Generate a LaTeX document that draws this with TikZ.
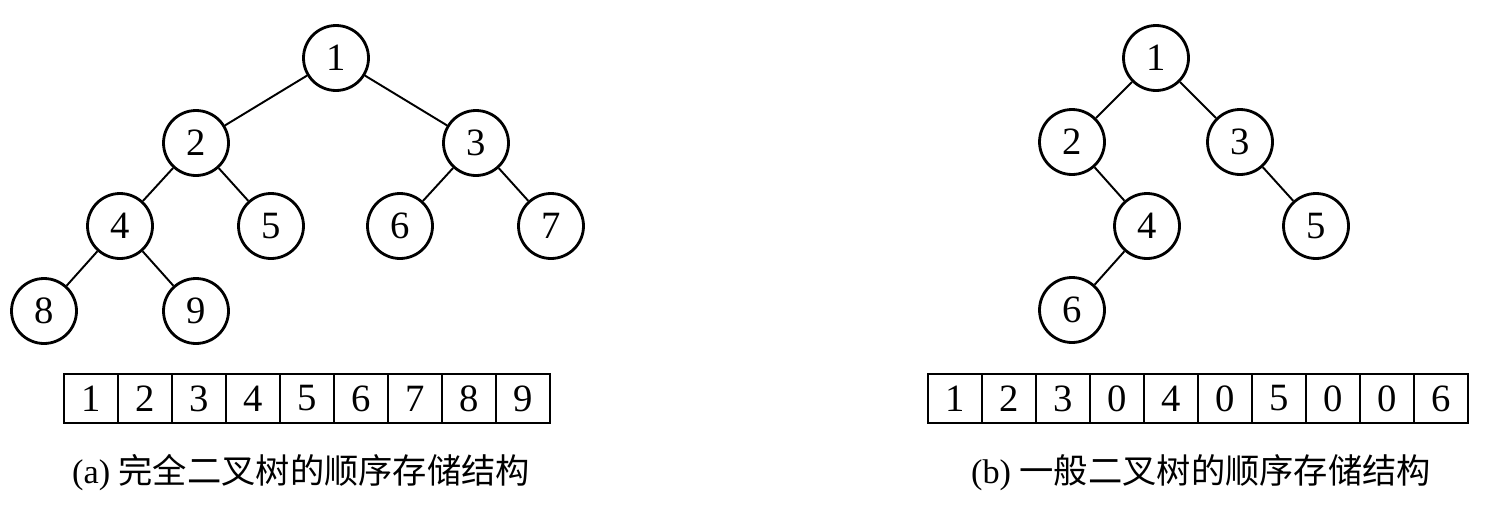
\documentclass[tikz,border=0pt]{standalone}
\usepackage{fontspec}
\setmainfont{Liberation Serif}
\newfontfamily\cjk{Noto Sans CJK SC}
\usetikzlibrary{positioning}
\tikzset{
    treenode/.style={
    circle,draw=black,line width=1.6pt,minimum size=1.3cm,inner sep=0pt,
    font=\fontsize{22}{26}\selectfont
    },
    cell/.style={
    rectangle,draw=black,line width=1.1pt,minimum width=1.08cm,minimum height=0.98cm,
    inner sep=0pt,font=\fontsize{22}{26}\selectfont
    },
    branch/.style={
    line width=1.1pt
    },
    caption/.style={
    font=\fontsize{19.5}{23}\selectfont
    },
}
\begin{document}
\begin{tikzpicture}[x=0.02cm, y=-0.02cm]
  \useasboundingbox (0,0) rectangle (1486,507);

  % (a) complete tree
  \node[treenode] (A1) at (336,58) {1};
  \node[treenode] (A2) at (196,143) {2};
  \node[treenode] (A3) at (476,143) {3};
  \node[treenode] (A4) at (120,226) {4};
  \node[treenode] (A5) at (271,226) {5};
  \node[treenode] (A6) at (400,226) {6};
  \node[treenode] (A7) at (551,226) {7};
  \node[treenode] (A8) at (44,311) {8};
  \node[treenode] (A9) at (196,311) {9};

  \path[branch]
    (A1) edge (A2)
         edge (A3)
    (A2) edge (A4)
         edge (A5)
    (A3) edge (A6)
         edge (A7)
    (A4) edge (A8)
         edge (A9);

  \node[cell] (AC1) at (91,398.5) {1};
  \node[cell] (AC2) at (145,398.5) {2};
  \node[cell] (AC3) at (199,398.5) {3};
  \node[cell] (AC4) at (253,398.5) {4};
  \node[cell] (AC5) at (307,398.5) {5};
  \node[cell] (AC6) at (361,398.5) {6};
  \node[cell] (AC7) at (415,398.5) {7};
  \node[cell] (AC8) at (469,398.5) {8};
  \node[cell] (AC9) at (523,398.5) {9};

  \node[caption] (capA) at (301,473) {(a) {\cjk 完全二叉树的顺序存储结构}};

  % (b) general tree
  \node[treenode] (B1) at (1156,58) {1};
  \node[treenode] (B2) at (1072,142) {2};
  \node[treenode] (B3) at (1240,142) {3};
  \node[treenode] (B4) at (1147,226) {4};
  \node[treenode] (B5) at (1316,226) {5};
  \node[treenode] (B6) at (1072,310) {6};

  \path[branch]
    (B1) edge (B2)
         edge (B3)
    (B2) edge (B4)
    (B3) edge (B5)
    (B4) edge (B6);

  \node[cell] (BC1) at (955,398.5) {1};
  \node[cell] (BC2) at (1009,398.5) {2};
  \node[cell] (BC3) at (1063,398.5) {3};
  \node[cell] (BC4) at (1117,398.5) {0};
  \node[cell] (BC5) at (1171,398.5) {4};
  \node[cell] (BC6) at (1225,398.5) {0};
  \node[cell] (BC7) at (1279,398.5) {5};
  \node[cell] (BC8) at (1333,398.5) {0};
  \node[cell] (BC9) at (1387,398.5) {0};
  \node[cell] (BC10) at (1441,398.5) {6};

  \node[caption] (capB) at (1201,473) {(b) {\cjk 一般二叉树的顺序存储结构}};

\end{tikzpicture}
\end{document}
